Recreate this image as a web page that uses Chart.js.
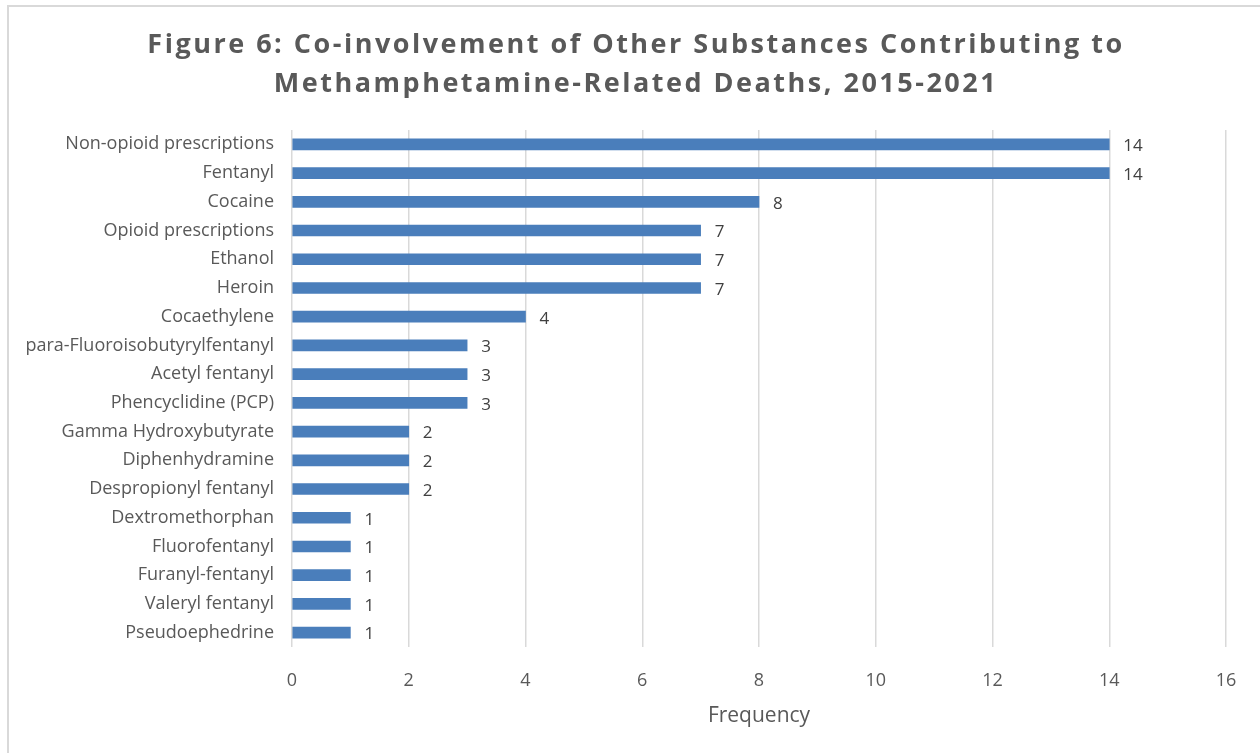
<!DOCTYPE html>
<html>
<head>
<meta charset="utf-8">
<script src="https://cdn.jsdelivr.net/npm/chart.js@4"></script>
<style>
  html, body { margin: 0; padding: 0; background: #fff; }
  #wrap { position: relative; width: 1260px; height: 753px; }
  #frame { position: absolute; left: 7px; top: 5px; right: -10px; bottom: -10px;
           border-left: 2px solid #d9d9d9; border-top: 2px solid #d9d9d9; }
</style>
</head>
<body>
<div id="wrap">
  <div id="frame"></div>
  <canvas id="myChart" width="1260" height="753"></canvas>
</div>
<script>
const titleLines = [
  'Figure 6: Co-involvement of Other Substances Contributing to',
  'Methamphetamine-Related Deaths, 2015-2021'
];

const substances = [
  'Non-opioid prescriptions', 'Fentanyl', 'Cocaine', 'Opioid prescriptions',
  'Ethanol', 'Heroin', 'Cocaethylene', 'para-Fluoroisobutyrylfentanyl',
  'Acetyl fentanyl', 'Phencyclidine (PCP)', 'Gamma Hydroxybutyrate',
  'Diphenhydramine', 'Despropionyl fentanyl', 'Dextromethorphan',
  'Fluorofentanyl', 'Furanyl-fentanyl', 'Valeryl fentanyl', 'Pseudoephedrine'
];
const frequency = [14, 14, 8, 7, 7, 7, 4, 3, 3, 3, 2, 2, 2, 1, 1, 1, 1, 1];
const xAxisTitle = 'Frequency';

const fontFam = "'Open Sans', 'Noto Sans', sans-serif";

// draws the value next to each bar
const valueLabels = {
  id: 'valueLabels',
  afterDatasetsDraw(chart) {
    const ctx = chart.ctx;
    const meta = chart.getDatasetMeta(0);
    ctx.save();
    ctx.font = '17px ' + fontFam;
    ctx.fillStyle = '#404040';
    ctx.textAlign = 'left';
    ctx.textBaseline = 'middle';
    meta.data.forEach((bar, i) => {
      ctx.fillText(String(frequency[i]), bar.x + 14, bar.y + 2);
    });
    ctx.restore();
  }
};

// spaced out two-line title
const spacedTitle = {
  id: 'spacedTitle',
  afterDraw(chart) {
    const ctx = chart.ctx;
    ctx.save();
    ctx.font = 'bold 27px ' + fontFam;
    ctx.letterSpacing = '2.5px';
    ctx.fillStyle = '#595959';
    ctx.textAlign = 'center';
    ctx.textBaseline = 'middle';
    ctx.fillText(titleLines[0], 636, 45);
    ctx.fillText(titleLines[1], 636, 84);
    ctx.restore();
  }
};

new Chart(document.getElementById('myChart'), {
  type: 'bar',
  data: {
    labels: substances,
    datasets: [{
      data: frequency,
      backgroundColor: '#4a7ebb',
      borderWidth: 0,
      barThickness: 11
    }]
  },
  options: {
    indexAxis: 'y',
    responsive: false,
    animation: false,
    layout: { padding: { top: 130, right: 34, bottom: 0, left: 0 } },
    plugins: {
      legend: { display: false },
      tooltip: { enabled: false }
    },
    scales: {
      x: {
        min: 0,
        max: 16,
        ticks: { stepSize: 2, color: '#595959', padding: 23, font: { family: fontFam, size: 18 } },
        grid: { color: '#d9d9d9', lineWidth: 1.5, drawTicks: false },
        border: { display: false },
        title: { display: true, text: xAxisTitle, color: '#595959', font: { family: fontFam, size: 21 }, padding: { top: 0, bottom: 24 } },
        afterFit(scale) { scale.height = 106; }
      },
      y: {
        ticks: { color: '#595959', padding: 18, font: { family: fontFam, size: 18 } },
        grid: { display: false, drawTicks: false },
        border: { display: false },
        afterFit(scale) { scale.width = 292; }
      }
    }
  },
  plugins: [valueLabels, spacedTitle]
});
</script>
</body>
</html>
